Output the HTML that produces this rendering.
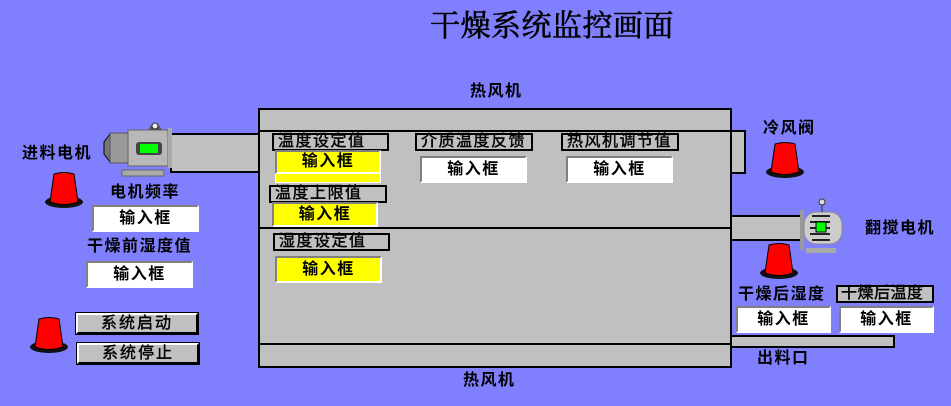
<!DOCTYPE html>
<html><head><meta charset="utf-8"><style>
*{margin:0;padding:0;box-sizing:border-box}
body{width:951px;height:406px;background:#8080ff;position:relative;overflow:hidden;font-family:"Liberation Sans","Noto Sans CJK SC",sans-serif;font-weight:bold;color:#000}
.a{position:absolute}
.t{position:absolute;font-size:16px;line-height:17px;white-space:nowrap;letter-spacing:1.5px}
.g{position:absolute;background:#c0c0c0;border:2px solid #000}
.lb{position:absolute;background:#c0c0c0;border:2px solid #000;font-size:16px;line-height:14px;padding-left:4px;white-space:nowrap;letter-spacing:1.5px;font-weight:normal;-webkit-text-stroke:0.4px #000}
.in{position:absolute;background:#fff;border:2px solid;border-color:#808080 #fff #fff #808080;font-size:16px;text-align:center;white-space:nowrap;letter-spacing:1.5px}
.y{background:#ffff00}
.btn{position:absolute;background:#c0c0c0;border:2px solid;border-color:#fff #000 #000 #fff;outline:1px solid #000;font-size:16px;text-align:center;line-height:18px;letter-spacing:2px;font-weight:normal;-webkit-text-stroke:0.4px #000}
</style></head><body>
<div class="t" style="left:430px;top:10px;font-size:30px;line-height:34px;font-family:'Liberation Serif','Noto Serif CJK SC',serif;font-weight:normal;-webkit-text-stroke:0.6px #000;letter-spacing:0.5px">干燥系统监控画面</div>
<div class="t" style="left:470px;top:83px">热风机</div>
<div class="t" style="left:463px;top:372px">热风机</div>

<!-- pipes -->
<div class="g" style="left:170px;top:133px;width:92px;height:40px"></div>
<div class="g" style="left:728px;top:130px;width:18px;height:44px;border-left:none"></div>
<div class="g" style="left:728px;top:215px;width:74px;height:26px"></div>
<div class="g" style="left:728px;top:335px;width:167px;height:13px"></div>
<!-- main box -->
<div class="g" style="left:258px;top:108px;width:474px;height:260px"></div>
<div class="a" style="left:258px;top:130px;width:474px;height:2px;background:#000"></div>
<div class="a" style="left:258px;top:227px;width:474px;height:2px;background:#000"></div>
<div class="a" style="left:258px;top:343px;width:474px;height:2px;background:#000"></div>

<div class="lb" style="left:272px;top:133px;width:117px;height:18px">温度设定值</div>
<div class="a" style="left:275px;top:150px;width:106px;height:33px;background:#ffff00;border:1px solid #fff"></div>
<div class="in y" style="left:275px;top:150px;width:106px;height:24px;line-height:20px">输入框</div>
<div class="lb" style="left:269px;top:185px;width:118px;height:18px">温度上限值</div>
<div class="in y" style="left:272px;top:202px;width:106px;height:25px;line-height:21px">输入框</div>
<div class="lb" style="left:273px;top:233px;width:117px;height:18px">湿度设定值</div>
<div class="in y" style="left:275px;top:256px;width:107px;height:27px;line-height:23px">输入框</div>
<div class="lb" style="left:415px;top:133px;width:118px;height:18px">介质温度反馈</div>
<div class="in" style="left:420px;top:156px;width:107px;height:27px;line-height:23px">输入框</div>
<div class="lb" style="left:561px;top:133px;width:118px;height:18px">热风机调节值</div>
<div class="in" style="left:566px;top:156px;width:107px;height:27px;line-height:23px">输入框</div>

<!-- left -->
<div class="t" style="left:22px;top:145px">进料电机</div>
<svg class="a" style="left:100px;top:122px" width="75" height="58">
<rect x="22" y="48" width="42" height="6" fill="#aaa" stroke="#666"/>
<path d="M10 12 L4 20 L4 32 L10 40 Z" fill="#777" stroke="#000"/>
<rect x="10" y="11" width="20" height="30" fill="#999" stroke="#555"/>
<rect x="28" y="8" width="40" height="36" fill="#b8b8b8" stroke="#666"/>
<rect x="68" y="6" width="4" height="40" fill="#aaa"/>
<path d="M48 8 L52 2 L58 2 L62 8Z" fill="#555"/>
<circle cx="55" cy="4" r="3" fill="#eee" stroke="#333"/>
<rect x="36" y="20" width="26" height="13" rx="3" fill="#444"/>
<rect x="40" y="22" width="18" height="9" fill="#00ff00"/>
</svg>
<div class="t" style="left:110px;top:184px">电机频率</div>
<div class="in" style="left:92px;top:205px;width:107px;height:27px;line-height:23px">输入框</div>
<div class="t" style="left:87px;top:238px">干燥前湿度值</div>
<div class="in" style="left:86px;top:261px;width:107px;height:27px;line-height:23px">输入框</div>
<div class="btn" style="left:76px;top:313px;width:122px;height:21px">系统启动</div>
<div class="btn" style="left:77px;top:343px;width:122px;height:21px">系统停止</div>

<!-- right -->
<div class="t" style="left:763px;top:120px">冷风阀</div>
<svg class="a" style="left:798px;top:196px" width="50" height="62">
<rect x="2" y="14" width="4" height="40" fill="#999"/>
<rect x="6" y="16" width="38" height="32" rx="12" fill="#ccc" stroke="#888"/>
<g stroke="#222" stroke-width="2"><line x1="14" y1="20" x2="32" y2="20"/><line x1="12" y1="26" x2="32" y2="26"/><line x1="12" y1="32" x2="32" y2="32"/><line x1="12" y1="38" x2="32" y2="38"/><line x1="14" y1="44" x2="32" y2="44"/></g>
<circle cx="24" cy="6" r="3" fill="#ddd" stroke="#333"/><line x1="24" y1="9" x2="24" y2="16" stroke="#333"/>
<rect x="18" y="26" width="10" height="10" fill="#00ff00" stroke="#000"/>
<rect x="8" y="52" width="30" height="5" fill="#aaa"/>
</svg>
<div class="t" style="left:865px;top:220px">翻搅电机</div>
<div class="t" style="left:738px;top:286px">干燥后湿度</div>
<div class="lb" style="left:836px;top:285px;width:98px;height:18px;padding-left:3px;letter-spacing:0.5px">干燥后温度</div>
<div class="in" style="left:736px;top:306px;width:95px;height:27px;line-height:23px">输入框</div>
<div class="in" style="left:839px;top:306px;width:95px;height:27px;line-height:23px">输入框</div>
<div class="t" style="left:757px;top:350px">出料口</div>

<!-- lamps -->
<svg width="0" height="0"><defs><g id="L"><ellipse cx="20" cy="31" rx="19" ry="6" fill="#111"/><path d="M10 3 Q20 0 30 3 L34 31 Q20 36 6 31 Z" fill="#ff0000" stroke="#000"/></g></defs></svg>
<svg class="a" style="left:44px;top:171px" width="42" height="38"><use href="#L"/></svg>
<svg class="a" style="left:765px;top:141px" width="42" height="38"><use href="#L"/></svg>
<svg class="a" style="left:759px;top:242px" width="42" height="38"><use href="#L"/></svg>
<svg class="a" style="left:29px;top:316px" width="42" height="38"><use href="#L"/></svg>
</body></html>
